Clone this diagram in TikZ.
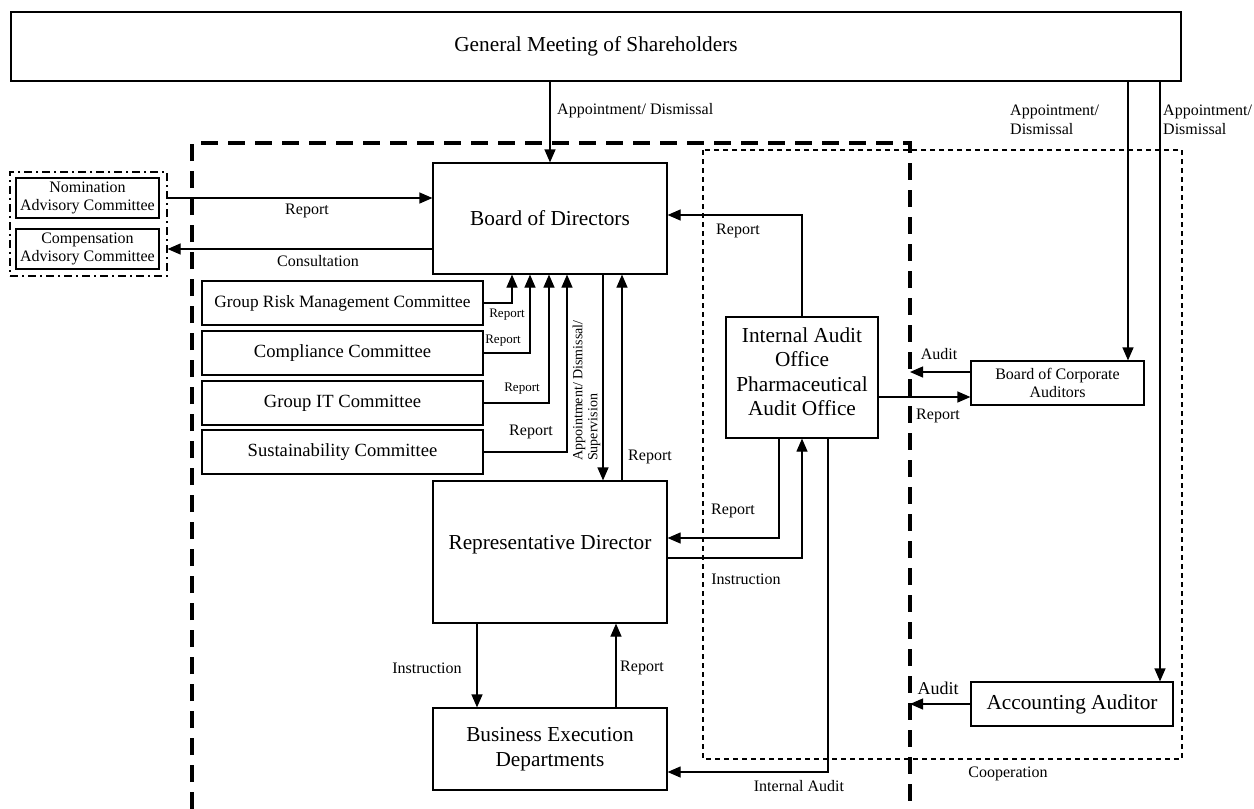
\documentclass[tikz,border=0pt]{standalone}
\usepackage{fontspec}
\setmainfont{Liberation Serif}
\usetikzlibrary{arrows.meta}
\begin{document}
\begin{tikzpicture}[x=1pt,y=-1pt,
  box/.style={draw, line width=1.2pt, inner sep=0pt, align=center},
  big/.style={font=\fontsize{21.3}{24.5}\selectfont},
  mid/.style={font=\fontsize{18.6}{21}\selectfont},
  lab/.style={font=\fontsize{16}{18.5}\selectfont, inner sep=0pt, align=left},
  smalllab/.style={font=\fontsize{13}{15}\selectfont, inner sep=0pt},
  conn/.style={line width=1.2pt, -{Triangle[length=13pt,width=11pt]}}
]
\useasboundingbox (0,0) rectangle (1254,809);
\fill[white] (0,0) rectangle (1254,809);

% boundary frames
\draw[line width=3.5pt, dash pattern=on 17pt off 10pt] (192,809) -- (192,143) -- (910,143) -- (910,809);
\coordinate (dashR) at (910,143);
\draw[line width=1.2pt, dash pattern=on 5pt off 4pt] (703,150) rectangle (1182,759);

% main boxes
\node[box,big,minimum width=1170pt,minimum height=69pt] (gm) at (596,46.5) {General Meeting of Shareholders};
\node[box,big,minimum width=234pt,minimum height=111pt] (bod) at (550,218.5) {Board of Directors};
\node[box,big,minimum width=234pt,minimum height=142pt,text height=14.5pt,text depth=19.5pt] (rep) at (550,552) {Representative Director};
\node[box,big,minimum width=234pt,minimum height=82pt] (bed) at (550,749) {Business Execution\\Departments};
\node[box,big,minimum width=152pt,minimum height=121pt,text depth=11.5pt] (ia) at (802,377.5) {Internal Audit\\Office\\Pharmaceutical\\Audit Office};
\node[box,lab,align=center,minimum width=173pt,minimum height=44pt] (bca) at (1057.5,383) {Board of Corporate\\Auditors};
\node[box,big,minimum width=202pt,minimum height=44pt] (aa) at (1072,704) {Accounting Auditor};

% advisory committees
\node[box,lab,align=center,minimum width=143pt,minimum height=40pt] (nom) at (87.5,198) {Nomination\\Advisory Committee};
\node[box,lab,align=center,minimum width=143pt,minimum height=40pt] (comp) at (87.5,249) {Compensation\\Advisory Committee};
\node[draw, line width=1.2pt, dash pattern=on 8pt off 4pt on 2pt off 4pt, minimum width=157pt, minimum height=104pt, inner sep=0pt] (adv) at (88.5,224) {};

% committees
\node[box,font=\fontsize{17.3}{20}\selectfont,minimum width=281pt,minimum height=44pt] (grm) at (342.5,303) {Group Risk Management Committee};
\node[box,mid,minimum width=281pt,minimum height=44pt] (cc) at (342.5,353) {Compliance Committee};
\node[box,mid,minimum width=281pt,minimum height=44pt] (git) at (342.5,403) {Group IT Committee};
\node[box,mid,minimum width=281pt,minimum height=44pt] (sc) at (342.5,452) {Sustainability Committee};

% x positions of vertical connector runs
\coordinate (x512) at (512,0);
\coordinate (x530) at (530,0);
\coordinate (x549) at (549,0);
\coordinate (x567) at (567,0);
\coordinate (x603) at (603,0);
\coordinate (x622) at (622,0);
\coordinate (x477) at (477,0);
\coordinate (x616) at (616,0);
\coordinate (x779) at (779,0);
\coordinate (x828) at (828,0);
\coordinate (xbca) at (1128,0);
\coordinate (xaa) at (1160,0);
\coordinate (y215) at (0,215);
\coordinate (y538) at (0,538);
\coordinate (y558) at (0,558);
\coordinate (y772) at (0,772);
\coordinate (y372) at (0,372);
\coordinate (y397) at (0,397);

% connectors
\draw[conn] (gm.south -| bod.north) -- (bod.north);
\draw[conn] (adv.east |- nom.east) -- (bod.west |- nom.east);
\draw[conn] (bod.west |- comp.east) -- (adv.east |- comp.east);
\draw[conn] (grm.east) -| (bod.south -| x512);
\draw[conn] (cc.east) -| (bod.south -| x530);
\draw[conn] (git.east) -| (bod.south -| x549);
\draw[conn] (sc.east) -| (bod.south -| x567);
\draw[conn] (bod.south -| x603) -- (rep.north -| x603);
\draw[conn] (rep.north -| x622) -- (bod.south -| x622);
\draw[conn] (ia.north) |- (bod.east |- y215);
\draw[conn] (ia.south -| x779) |- (rep.east |- y538);
\draw[conn] (rep.east |- y558) -| (ia.south);
\draw[conn] (ia.south -| x828) |- (bed.east |- y772);
\draw[conn] (rep.south -| x477) -- (bed.north -| x477);
\draw[conn] (bed.north -| x616) -- (rep.south -| x616);
\draw[conn] (ia.east |- y397) -- (bca.west |- y397);
\draw[conn] (bca.west |- y372) -- (dashR |- y372);
\draw[conn] (gm.south -| xbca) -- (bca.north -| xbca);
\draw[conn] (gm.south -| xaa) -- (aa.north -| xaa);
\draw[conn] (aa.west) -- (aa.west -| dashR);

% labels
\node[lab,anchor=west] (lgm) at (557,111) {Appointment/ Dismissal};
\node[lab] (lnom) at (307,211) {Report};
\node[lab] (lcomp) at (318,261) {Consultation};
\node[smalllab] (lr1) at (507,315) {Report};
\node[smalllab] (lr2) at (503,341) {Report};
\node[smalllab] (lr3) at (522,389) {Report};
\node[lab] (lr4) at (531,432) {Report};
\node[font=\fontsize{14}{15}\selectfont, inner sep=0pt, rotate=90, anchor=west, align=left] (lsup) at (586.5,461) {Appointment/ Dismissal/\\Supervision};
\node[lab] (lr5) at (650,457) {Report};
\node[lab] (lr6) at (738,231) {Report};
\node[lab] (lr7) at (733,511) {Report};
\node[lab] (li1) at (746,579) {Instruction};
\node[lab] (lia) at (799,786) {Internal Audit};
\node[lab] (li2) at (427,668) {Instruction};
\node[lab] (lr8) at (642,668) {Report};
\node[lab] (lr9) at (938,416) {Report};
\node[lab] (lau1) at (939,354) {Audit};
\node[lab,font=\fontsize{18}{20}\selectfont] (lau2) at (938,688) {Audit};
\node[lab,anchor=west] (lapp1) at (1010,120) {Appointment/\\Dismissal};
\node[lab,anchor=west] (lapp2) at (1163,120) {Appointment/\\Dismissal};
\node[lab] (lcoop) at (1008,774) {Cooperation};
\end{tikzpicture}
\end{document}
